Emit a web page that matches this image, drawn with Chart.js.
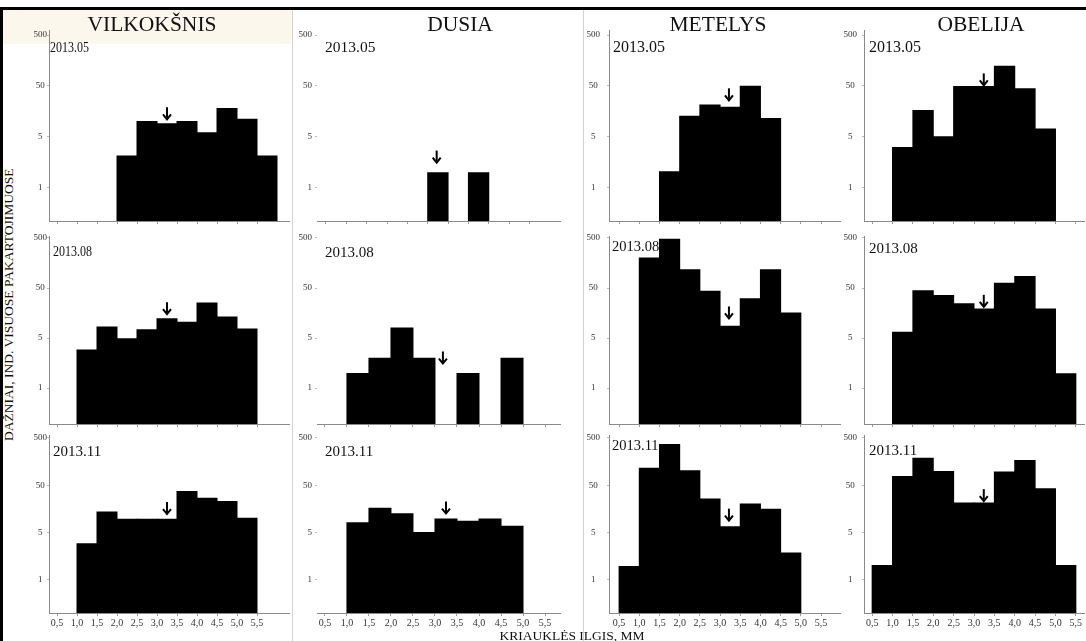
<!DOCTYPE html>
<html><head><meta charset="utf-8">
<script src="https://cdn.jsdelivr.net/npm/chart.js@4"></script>
<style>
html,body{margin:0;padding:0;background:#fff;width:1086px;height:641px;overflow:hidden;position:relative;font-family:'Liberation Serif','DejaVu Serif',serif;}
canvas{position:absolute;}
.t{position:absolute;white-space:nowrap;color:#111;line-height:1;}
.frame{position:absolute;background:#000;}
.sep{position:absolute;background:#d2d2d2;width:1px;}
</style></head><body>
<div style="position:absolute;left:3px;top:10px;width:288px;height:34px;background:#fbf7ec"></div>
<div class="sep" style="left:292px;top:10px;height:631px"></div>
<div class="sep" style="left:583px;top:10px;height:631px"></div>
<div class="frame" style="left:0;top:7px;width:1086px;height:3px"></div>
<div class="frame" style="left:0;top:7px;width:3px;height:634px"></div>
<div id="root"></div>
<script>
// ---------- data ----------
const sites = ['VILKOKŠNIS', 'DUSIA', 'METELYS', 'OBELIJA'];
const dates = ['2013.05', '2013.08', '2013.11'];
// lower edges of the 0.5 mm length classes
const binStarts = [0.5, 1.0, 1.5, 2.0, 2.5, 3.0, 3.5, 4.0, 4.5, 5.0, 5.5];
const binWidth = 0.5;
const xTickValues = [0.5, 1.0, 1.5, 2.0, 2.5, 3.0, 3.5, 4.0, 4.5, 5.0, 5.5];
const xTickLabels = ['0,5', '1,0', '1,5', '2,0', '2,5', '3,0', '3,5', '4,0', '4,5', '5,0', '5,5'];
const yTickValues = [1, 5, 50, 500];
const yTickLabels = ['1', '5', '50', '500'];

// individuals per length class (null = no individuals)
const vilkoksnis_05 = [null, null, null, 2.7, 10, 9, 10, 6, 18, 11, 2.7];
const vilkoksnis_08 = [null, 3.4, 8.3, 4.9, 7.3, 12.2, 10.3, 25, 13.2, 7.6, null];
const vilkoksnis_11 = [null, 3.4, 13.5, 9.5, 9.5, 9.5, 36.7, 26.5, 22.6, 10, null];
const dusia_05 = [null, null, null, null, null, 1.6, null, 1.6, null, null, null];
const dusia_08 = [null, 1.6, 2.6, 7.9, 2.6, null, 1.6, null, 2.6, null, null];
const dusia_11 = [null, 8, 16.2, 12.5, 5, 9.7, 8.7, 9.7, 6.8, null, null];
const metelys_05 = [null, null, 1.65, 12.6, 21, 19, 49, 11.4, null, null, null];
const metelys_08 = [null, 199, 470, 116, 43, 8.6, 30.6, 116, 15.8, null, null];
const metelys_11 = [1.58, 114, 361, 101, 25.6, 6.6, 20, 15.5, 2.5, null, null];
const obelija_05 = [null, 3.55, 16.3, 5, 48.5, 48.5, 122, 44, 7.1, null, null];
const obelija_08 = [null, 6.5, 44, 35.6, 24.3, 19, 62, 85, 19, 1.58, null];
const obelija_11 = [1.63, 76, 186, 97, 21, 21, 95, 167, 42, 1.63, null];

// mean shell length (arrow) per date, and the level where the arrow tip sits
const meanVilkoksnis = [3.25, 3.25, 3.25];
const meanDusia = [3.22, 3.18, 3.25];
const meanMetelys = [3.22, 3.22, 3.22];
const meanObelija = [3.24, 3.24, 3.24];
const tipVilkoksnis = [11, 15, 12.3];
const tipDusia = [2.2, 2.2, 12.6];
const tipMetelys = [26, 12.3, 8.9];
const tipObelija = [51, 21, 23];

const panelCounts = [
  [vilkoksnis_05, dusia_05, metelys_05, obelija_05],
  [vilkoksnis_08, dusia_08, metelys_08, obelija_08],
  [vilkoksnis_11, dusia_11, metelys_11, obelija_11]
];
const panelMeans = [meanVilkoksnis, meanDusia, meanMetelys, meanObelija];
const panelTips = [tipVilkoksnis, tipDusia, tipMetelys, tipObelija];

// ---------- axis mapping: the y axis places 1, 5, 50, 500 at equal steps ----------
function axisPos(v) {
  if (v == null || v <= 0) return null;
  const t = yTickValues;
  if (v <= t[0]) return 1 + Math.log(v / t[0]) / Math.log(t[1] / t[0]);
  for (let i = 0; i < t.length - 1; i++) {
    if (v <= t[i + 1]) return (i + 1) + Math.log(v / t[i]) / Math.log(t[i + 1] / t[i]);
  }
  return t.length + Math.log(v / t[t.length - 1]) / Math.log(10);
}

// ---------- layout ----------
const colLayout = [
  {L: 49,  R: 289,  align: 'center', pad: 0, line: '#8a8a8a'},
  {L: 317, R: 560,  align: 'near',   pad: 3, line: 'rgba(0,0,0,0)'},
  {L: 609, R: 840,  align: 'center', pad: 7, line: '#8a8a8a'},
  {L: 864, R: 1084, align: 'center', pad: 5, line: '#8a8a8a'}
];
const rowLayout = [
  {top: 30,  bottom: 221, min: 0.34, max: 4.10},
  {top: 236, bottom: 424, min: 0.28, max: 4.04},
  {top: 435, bottom: 613, min: 0.30, max: 4.06}
];
const xRanges = [
  [[0.30, 6.30], [0.28, 6.25], [0.25, 5.97], [0.30, 5.70]],
  [[0.30, 6.30], [0.32, 5.84], [0.25, 5.97], [0.30, 5.70]],
  [[0.30, 6.30], [0.32, 5.84], [0.25, 5.97], [0.30, 5.70]]
];
const dateLabelPos = [
  [{x: 50, y: 47, f: 15, sx: 0.8}, {x: 325, y: 47, f: 15.5}, {x: 613, y: 47, f: 16}, {x: 869, y: 47, f: 16}],
  [{x: 53, y: 251, f: 15, sx: 0.8}, {x: 325, y: 252, f: 15}, {x: 612, y: 246, f: 14.5}, {x: 869, y: 248, f: 15}],
  [{x: 53, y: 451, f: 15}, {x: 325, y: 451, f: 15}, {x: 612, y: 445, f: 14.5}, {x: 869, y: 450, f: 15}]
];
const titleX = [152, 460, 718, 981];

const YW = 30, PADT = 8, PADR = 10;
const root = document.getElementById('root');

const arrowPlugin = {
  id: 'meanArrow',
  afterDatasetsDraw(chart, args, opts) {
    const xs = chart.scales.x, ys = chart.scales.y, ctx = chart.ctx;
    const x = xs.getPixelForValue(opts.mean);
    const y = ys.getPixelForValue(axisPos(opts.tip));
    ctx.save();
    ctx.strokeStyle = '#000';
    ctx.lineWidth = 2;
    ctx.beginPath();
    ctx.moveTo(x, y - 12);
    ctx.lineTo(x, y - 1);
    ctx.stroke();
    ctx.beginPath();
    ctx.moveTo(x - 4, y - 5);
    ctx.lineTo(x, y);
    ctx.lineTo(x + 4, y - 5);
    ctx.stroke();
    ctx.restore();
  }
};

function addText(txt, x, y, f, extra) {
  const d = document.createElement('div');
  d.className = 't';
  d.textContent = txt;
  d.style.left = x + 'px';
  d.style.top = (y - f / 2) + 'px';
  d.style.fontSize = f + 'px';
  if (extra) Object.assign(d.style, extra);
  root.appendChild(d);
  return d;
}

for (let r = 0; r < 3; r++) {
  for (let c = 0; c < 4; c++) {
    const L = colLayout[c], R = rowLayout[r];
    const XH = r === 2 ? 22 : 5;
    const w = YW + (L.R - L.L) + PADR;
    const h = PADT + (R.bottom - R.top) + XH;
    const cv = document.createElement('canvas');
    cv.width = w; cv.height = h;
    cv.style.left = (L.L - YW) + 'px';
    cv.style.top = (R.top - PADT) + 'px';
    cv.style.width = w + 'px'; cv.style.height = h + 'px';
    root.appendChild(cv);
    const counts = panelCounts[r][c];
    const xr = xRanges[r][c];
    new Chart(cv, {
      type: 'bar',
      data: {
        datasets: [{
          data: binStarts.map((b, i) => ({x: b + binWidth / 2, y: axisPos(counts[i])})),
          backgroundColor: '#000',
          borderWidth: 0,
          barPercentage: 1,
          categoryPercentage: 1,
          inflateAmount: 0.5
        }]
      },
      options: {
        responsive: false, animation: false, devicePixelRatio: 1,
        layout: {padding: {top: PADT, right: PADR, left: 0, bottom: 0}},
        plugins: {legend: {display: false}, tooltip: {enabled: false},
                  meanArrow: {mean: panelMeans[c][r], tip: panelTips[c][r]}},
        scales: {
          x: {
            type: 'linear', min: xr[0], max: xr[1], offset: false,
            afterBuildTicks: s => { s.ticks = xTickValues.map(v => ({value: v})); },
            afterFit: s => { s.height = XH; s.paddingLeft = 0; s.paddingRight = 0; },
            grid: {offset: false, drawOnChartArea: false, drawTicks: true, tickLength: 3, color: '#999'},
            border: {color: '#8a8a8a'},
            ticks: {display: r === 2, autoSkip: false, maxRotation: 0, padding: 1,
                    font: {family: 'Liberation Serif', size: 10}, color: '#333',
                    callback: (v, i) => xTickLabels[i]}
          },
          y: {
            type: 'linear', min: R.min, max: R.max,
            afterBuildTicks: s => { s.ticks = yTickValues.map((v, i) => ({value: i + 1})); },
            afterFit: s => { s.width = YW; s.paddingTop = 0; s.paddingBottom = 0; },
            grid: {drawOnChartArea: false, drawTicks: true, tickLength: 2, color: '#bbb'},
            border: {color: L.line},
            ticks: {crossAlign: L.align, padding: L.pad,
                    font: {family: 'Liberation Serif', size: 9}, color: '#333',
                    callback: (v, i) => yTickLabels[i]}
          }
        }
      },
      plugins: [arrowPlugin]
    });
    const dp = dateLabelPos[r][c];
    addText(dates[r], dp.x, dp.y, dp.f, dp.sx ? {transform: 'scaleX(' + dp.sx + ')', transformOrigin: 'left center'} : null);
  }
}
for (let c = 0; c < 4; c++) {
  addText(sites[c], titleX[c], 24.5, 21.5, {transform: 'translateX(-50%)'});
}
addText('DAŽNIAI, IND. VISUOSE PAKARTOJIMUOSE', 9, 305, 13.5,
        {transform: 'translate(-50%,0) rotate(-90deg)', transformOrigin: 'center center'});
addText('KRIAUKLĖS ILGIS, MM', 572, 636, 13.5, {transform: 'translateX(-50%)'});
</script>
</body></html>
